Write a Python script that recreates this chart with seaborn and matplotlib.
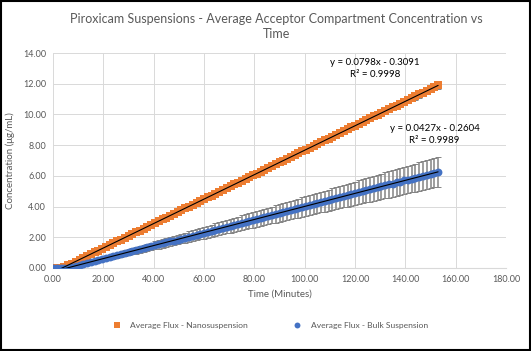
import matplotlib
matplotlib.use("Agg")
import matplotlib.pyplot as plt
import numpy as np
import pandas as pd
import seaborn as sns
from matplotlib.patches import Rectangle

# sampling every 1.5 minutes, 0 - 153 min
time_min = [1.5 * i for i in range(103)]

nano_conc = [0.00, 0.00, 0.00, 0.05, 0.17, 0.29, 0.41, 0.53, 0.65, 0.77,
             0.89, 1.01, 1.13, 1.25, 1.37, 1.49, 1.61, 1.73, 1.85, 1.97,
             2.08, 2.20, 2.32, 2.44, 2.56, 2.68, 2.80, 2.92, 3.04, 3.16,
             3.28, 3.40, 3.52, 3.64, 3.76, 3.88, 4.00, 4.12, 4.24, 4.36,
             4.48, 4.60, 4.72, 4.84, 4.96, 5.08, 5.20, 5.32, 5.44, 5.56,
             5.68, 5.80, 5.92, 6.03, 6.15, 6.27, 6.39, 6.51, 6.63, 6.75,
             6.87, 6.99, 7.11, 7.23, 7.35, 7.47, 7.59, 7.71, 7.83, 7.95,
             8.07, 8.19, 8.31, 8.43, 8.55, 8.67, 8.79, 8.91, 9.03, 9.15,
             9.27, 9.39, 9.51, 9.63, 9.75, 9.87, 9.99, 10.10, 10.22, 10.34,
             10.46, 10.58, 10.70, 10.82, 10.94, 11.06, 11.18, 11.30, 11.42, 11.54,
             11.66, 11.78, 11.90]
nano_err = [0.00, 0.00, 0.00, 0.01, 0.01, 0.01, 0.01, 0.02, 0.02, 0.02,
            0.02, 0.02, 0.03, 0.03, 0.03, 0.03, 0.04, 0.04, 0.04, 0.04,
            0.04, 0.05, 0.05, 0.05, 0.05, 0.06, 0.06, 0.06, 0.06, 0.06,
            0.07, 0.07, 0.07, 0.07, 0.07, 0.08, 0.08, 0.08, 0.08, 0.09,
            0.09, 0.09, 0.09, 0.09, 0.10, 0.10, 0.10, 0.10, 0.11, 0.11,
            0.11, 0.11, 0.11, 0.12, 0.12, 0.12, 0.12, 0.13, 0.13, 0.13,
            0.13, 0.13, 0.14, 0.14, 0.14, 0.14, 0.15, 0.15, 0.15, 0.15,
            0.15, 0.16, 0.16, 0.16, 0.16, 0.17, 0.17, 0.17, 0.17, 0.17,
            0.18, 0.18, 0.18, 0.18, 0.18, 0.19, 0.19, 0.19, 0.19, 0.20,
            0.20, 0.20, 0.20, 0.20, 0.21, 0.21, 0.21, 0.21, 0.22, 0.22,
            0.22, 0.22, 0.22]

bulk_conc = [0.00, 0.00, 0.00, 0.00, 0.00, 0.06, 0.12, 0.19, 0.25, 0.32,
             0.38, 0.44, 0.51, 0.57, 0.64, 0.70, 0.76, 0.83, 0.89, 0.96,
             1.02, 1.08, 1.15, 1.21, 1.28, 1.34, 1.40, 1.47, 1.53, 1.60,
             1.66, 1.73, 1.79, 1.85, 1.92, 1.98, 2.05, 2.11, 2.17, 2.24,
             2.30, 2.37, 2.43, 2.49, 2.56, 2.62, 2.69, 2.75, 2.81, 2.88,
             2.94, 3.01, 3.07, 3.13, 3.20, 3.26, 3.33, 3.39, 3.45, 3.52,
             3.58, 3.65, 3.71, 3.77, 3.84, 3.90, 3.97, 4.03, 4.10, 4.16,
             4.22, 4.29, 4.35, 4.42, 4.48, 4.54, 4.61, 4.67, 4.74, 4.80,
             4.86, 4.93, 4.99, 5.06, 5.12, 5.18, 5.25, 5.31, 5.38, 5.44,
             5.50, 5.57, 5.63, 5.70, 5.76, 5.82, 5.89, 5.95, 6.02, 6.08,
             6.14, 6.21, 6.27]
bulk_err = [0.00, 0.00, 0.00, 0.00, 0.00, 0.05, 0.06, 0.07, 0.08, 0.09,
            0.10, 0.10, 0.11, 0.12, 0.13, 0.14, 0.15, 0.16, 0.17, 0.18,
            0.19, 0.20, 0.21, 0.22, 0.23, 0.24, 0.25, 0.26, 0.27, 0.28,
            0.29, 0.29, 0.30, 0.31, 0.32, 0.33, 0.34, 0.35, 0.36, 0.37,
            0.38, 0.39, 0.40, 0.41, 0.42, 0.43, 0.44, 0.45, 0.46, 0.47,
            0.48, 0.48, 0.49, 0.50, 0.51, 0.52, 0.53, 0.54, 0.55, 0.56,
            0.57, 0.58, 0.59, 0.60, 0.61, 0.62, 0.63, 0.64, 0.65, 0.66,
            0.67, 0.67, 0.68, 0.69, 0.70, 0.71, 0.72, 0.73, 0.74, 0.75,
            0.76, 0.77, 0.78, 0.79, 0.80, 0.81, 0.82, 0.83, 0.84, 0.85,
            0.86, 0.86, 0.87, 0.88, 0.89, 0.90, 0.91, 0.92, 0.93, 0.94,
            0.95, 0.96, 0.97]

nano_label = "Average Flux - Nanosuspension"
bulk_label = "Average Flux - Bulk Suspension"
nano_eq = "y = 0.0798x - 0.3091\nR² = 0.9998"
bulk_eq = "y = 0.0427x - 0.2604\nR² = 0.9989"

df_nano = pd.DataFrame({"t": time_min, "c": nano_conc, "e": nano_err})
df_bulk = pd.DataFrame({"t": time_min, "c": bulk_conc, "e": bulk_err})

sns.set_style("white")
plt.rcParams['font.family'] = ['Lato', 'DejaVu Sans']

fig = plt.figure(figsize=(5.31, 3.51), dpi=100)
ax = fig.add_axes([0.100, 0.2365, 0.853, 0.6125])

orange = '#ED7D31'
blue = '#4472C4'
txt_gray = '#595959'

# error bars: grey stems, dark caps
for df, w, cs in [(df_nano, 0.8, 1.8), (df_bulk, 1.1, 2.0)]:
    _, caps, bars = ax.errorbar(df.t, df.c, yerr=df.e, fmt='none', ecolor='#848484',
                                elinewidth=w, capsize=cs, capthick=0.7, zorder=2)
    for c in caps:
        c.set_color('#262626')
    for b in bars:
        b.set_color('#848484')

sns.scatterplot(data=df_nano, x="t", y="c", marker='s', s=32, color=orange,
                linewidth=0, ax=ax, zorder=3, label=nano_label)
sns.scatterplot(data=df_bulk, x="t", y="c", marker='o', s=32, color=blue,
                linewidth=0, ax=ax, zorder=3, label=bulk_label)

# linear trendlines
sns.regplot(data=df_nano, x="t", y="c", scatter=False, ci=None, ax=ax,
            color='black', line_kws={'linewidth': 0.8, 'zorder': 4})
sns.regplot(data=df_bulk, x="t", y="c", scatter=False, ci=None, ax=ax,
            color='black', line_kws={'linewidth': 0.8, 'zorder': 4})

ax.text(127.8, 12.3, nano_eq, ha='center', va='bottom', fontsize=7, color='black',
        linespacing=1.4)
ax.text(151.6, 8.0, bulk_eq, ha='center', va='bottom', fontsize=7, color='black',
        linespacing=1.4)

ax.set_xlim(0, 180)
ax.set_ylim(0, 14)
ax.set_xticks(np.arange(0, 181, 20))
ax.set_yticks(np.arange(0, 15, 2))
ax.set_xticklabels([f"{v:.2f}" for v in np.arange(0, 181, 20)])
ax.set_yticklabels([f"{v:.2f}" for v in np.arange(0, 15, 2)])
ax.tick_params(labelsize=6.5, colors=txt_gray, length=0, pad=5)
ax.grid(True, color='#d9d9d9', linewidth=0.7)
ax.set_axisbelow(True)
for s in ['top', 'right', 'left']:
    ax.spines[s].set_visible(False)
ax.spines['bottom'].set_color('#d9d9d9')
ax.set_xlabel("Time (Minutes)", fontsize=7, color=txt_gray, labelpad=4)
ax.set_ylabel("Concentration (μg/mL)", fontsize=7, color=txt_gray, labelpad=6)

handles, labels = ax.get_legend_handles_labels()
ax.get_legend().remove()
fig.legend(handles, labels, loc='center', bbox_to_anchor=(0.505, 0.074), ncol=2,
           frameon=False, fontsize=6.1, labelcolor=txt_gray, columnspacing=4.8,
           handletextpad=0.6, markerscale=0.75)

fig.text(0.52, 0.925, "Piroxicam Suspensions - Average Acceptor Compartment Concentration vs\nTime",
         ha='center', va='center', fontsize=9, color=txt_gray, linespacing=1.35)

fig.patches.append(Rectangle((0.002, 0.003), 0.996, 0.994, transform=fig.transFigure,
                             fill=False, edgecolor='black', linewidth=1.5))

fig.savefig("out.png", dpi=100)
